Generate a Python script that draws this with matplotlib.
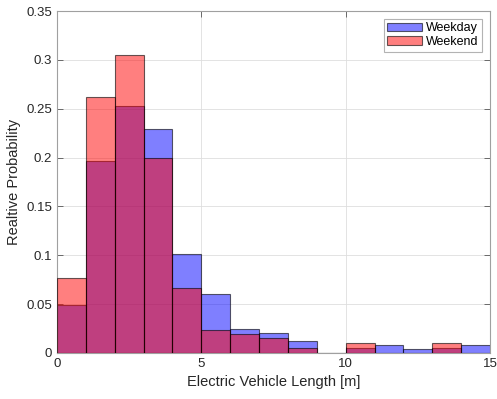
import numpy as np
import matplotlib.pyplot as plt

plt.rcParams['font.family'] = ['Liberation Sans', 'DejaVu Sans']

# bin edges in metres, width 1
bin_edges = np.arange(0, 16, 1)

# relative probability per bin
weekday = [0.049, 0.197, 0.253, 0.229, 0.101, 0.060, 0.025, 0.020, 0.012, 0.0,
           0.005, 0.008, 0.004, 0.005, 0.008]
weekend = [0.077, 0.262, 0.305, 0.200, 0.067, 0.024, 0.019, 0.015, 0.005, 0.0,
           0.010, 0.0, 0.0, 0.010, 0.0]

y_ticks = [0, 0.05, 0.1, 0.15, 0.2, 0.25, 0.3, 0.35]
y_tick_labels = ['0', '0.05', '0.1', '0.15', '0.2', '0.25', '0.3', '0.35']
x_ticks = [0, 5, 10, 15]


fig = plt.figure(figsize=(4.97, 3.99), dpi=100)
ax = fig.add_axes([0.1147, 0.1153, 0.8712, 0.857])

left = bin_edges[:-1]
ax.bar(left, weekday, width=1, align='edge', color=(0, 0, 1, 0.5),
       edgecolor=(0, 0, 0, 0.6), linewidth=0.8, label='Weekday', zorder=2)
ax.bar(left, weekend, width=1, align='edge', color=(1, 0, 0, 0.5),
       edgecolor=(0, 0, 0, 0.6), linewidth=0.8, label='Weekend', zorder=3)

ax.set_xlim(0, 15)
ax.set_ylim(0, 0.35)
ax.set_xticks(x_ticks)
ax.set_yticks(y_ticks)
ax.set_yticklabels(y_tick_labels)
ax.tick_params(direction='in', length=4, width=0.6, labelsize=9.5,
               color='#555555', labelcolor='#262626', top=True, right=True)
ax.grid(True, color='#dedede', linewidth=0.6, zorder=0)
ax.set_axisbelow(True)
for sp in ax.spines.values():
    sp.set_color('#a0a0a0')
    sp.set_linewidth(0.8)

ax.set_xlabel('Electric Vehicle Length [m]', fontsize=10.5, color='#262626')
ax.set_ylabel('Realtive Probability', fontsize=10.5, color='#262626')

leg = ax.legend(loc='upper right', fontsize=9, frameon=True, fancybox=False,
                borderpad=0.3, labelspacing=0.15, handlelength=2.8,
                handletextpad=0.3, borderaxespad=0.6)
leg.get_frame().set_edgecolor('#a0a0a0')
leg.get_frame().set_linewidth(0.8)

fig.savefig('out.png', dpi=100)
